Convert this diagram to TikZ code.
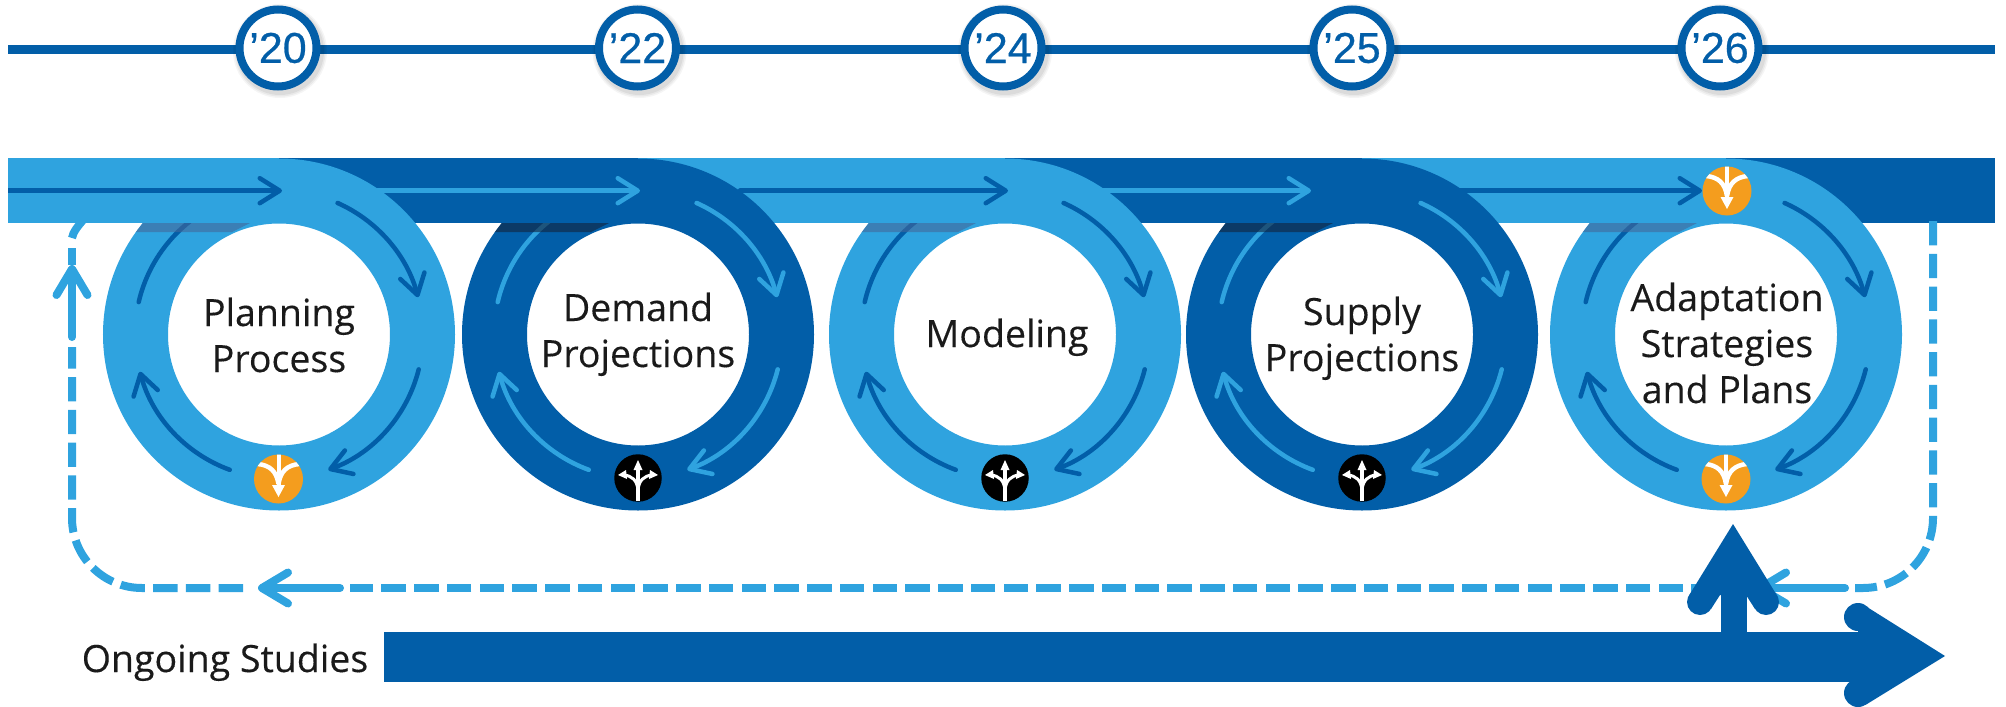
\documentclass[tikz,border=0pt]{standalone}
\usepackage{fontspec}
\setmainfont[FakeBold=0.25]{Open Sans}
\newfontfamily\yearfont[FakeBold=0.6]{Liberation Sans}
\usetikzlibrary{arrows.meta}
\definecolor{lt}{HTML}{2FA3DF}
\definecolor{dk}{HTML}{025EA8}
\definecolor{org}{HTML}{F49D1E}
\definecolor{ink}{HTML}{1A1A1A}
\tikzset{
  ringnode/.style={circle,inner sep=0pt,minimum size=287pt,line width=65pt,fill=white,draw=#1},
  seg/.style={fill=#1},
  flow/.style={draw=#1,line width=4.5pt,line cap=round,-{Straight Barb[length=20pt,width=25pt,round]}},
  tailarc/.style={draw=#1,line width=4.5pt,line cap=round},
  yearnode/.style={circle,inner sep=0pt,minimum size=77pt,line width=8pt,draw=dk,fill=white,text=dk,font=\yearfont\fontsize{43}{43}\selectfont},
  label/.style={anchor=base,inner sep=0pt,align=center,text=ink,font=\fontsize{37.5}{46}\selectfont},
  orangedot/.style={circle,inner sep=0pt,minimum size=49pt,fill=org},
  blackdot/.style={circle,inner sep=0pt,minimum size=47.5pt,fill=black},
  loopdash/.style={draw=lt,line width=8pt,dash pattern=on 24.4pt off 8.35pt},
  loopsolid/.style={draw=lt,line width=8pt},
  loophead/.style={draw=lt,line width=8pt,line cap=round,-{Straight Barb[length=26pt,width=31pt,round]}},
  mergeicon/.pic={
    \begin{scope}
      \clip (0,0) circle (24.5);
      \draw[white,line width=4.5pt] (-21,15) .. controls (-9,14) and (-2,8) .. (0,-5);
      \draw[white,line width=4.5pt] (21,15) .. controls (9,14) and (2,8) .. (0,-5);
      \draw[white,line width=4pt] (0,26) -- (0,-8);
      \fill[white] (-6.5,-6) -- (6.5,-6) -- (0,-18) -- cycle;
    \end{scope}
  },
  forkicon/.pic={
    \draw[white,line width=3.5pt] (0,-23) -- (0,10);
    \fill[white] (-4.5,8) -- (4.5,8) -- (0,18) -- cycle;
    \draw[white,line width=3pt] (0,-12) .. controls (-1,-2) and (-6,2) .. (-14,3);
    \draw[white,line width=3pt] (0,-12) .. controls (1,-2) and (6,2) .. (14,3);
    \fill[white] (-20,3) -- (-12,8) -- (-11,-1) -- cycle;
    \fill[white] (20,3) -- (12,8) -- (11,-1) -- cycle;
  }
}
\newcommand{\RingArcs}[3]{% centre x, centre y, colour
  \begin{scope}[shift={(#1,#2)}]
    \draw[flow=#3] (-66:144) arc[start angle=-66,end angle=-15,radius=144];
    \draw[flow=#3] (14:144) arc[start angle=14,end angle=70,radius=144];
    \draw[flow=#3] (110:144) arc[start angle=110,end angle=165,radius=144];
    \draw[tailarc=#3] (193:144) arc[start angle=193,end angle=235,radius=144];
  \end{scope}}
\newcommand{\RingShade}[2]{% centre x, colour
  \begin{scope}
    \clip (#1,334.5) circle (176);
    \fill[#2,opacity=.6] (#1-160,223) -- (#1-29,223) -- (#1-47,232) -- (#1-160,232) -- cycle;
  \end{scope}}
\definecolor{shl}{RGB}{67,103,153}
\definecolor{shd}{RGB}{20,34,58}
\begin{document}
\begin{tikzpicture}[x=1pt,y=1pt,yscale=-1]
\useasboundingbox (0,0) rectangle (2006,707);

% timeline
\coordinate (tlL) at (8,49.5);
\coordinate (tlR) at (1995,49.5);
\draw[dk,line width=8.5pt] (tlL) -- (tlR);
\foreach \x in {278,637.5,1003,1352,1720}{
  \foreach \r/\o in {47/.04,45.5/.05,44/.06}
    \fill[black,opacity=\o] (\x+2,51) circle (\r);
}
\node[yearnode] (y20) at (278,48) {’20};
\node[yearnode] (y22) at (637.5,48) {’22};
\node[yearnode] (y24) at (1003,48) {’24};
\node[yearnode] (y25) at (1352,48) {’25};
\node[yearnode] (y26) at (1720,48) {’26};

% left end of the return loop, passes under the band
\coordinate (lc1) at (72,238);
\coordinate (lc2) at (84,219);
\draw[loopsolid] (lc1) .. controls (73,232) and (78,226) .. (lc2);

% band and rings, right to left
\fill[seg=dk] (1726,158) rectangle (1995,223);
\node[ringnode=lt] (r5) at (1726,334.5) {};
\RingArcs{1726}{334.5}{dk}
\RingShade{1726}{shl}
\fill[seg=lt] (1362,158) rectangle (1726,223);
\coordinate (a5s) at (1420,190.7);
\coordinate (a5e) at (1702,190.7);
\draw[flow=dk] (a5s) -- (a5e);

\node[ringnode=dk] (r4) at (1362,334.5) {};
\RingArcs{1362}{334.5}{lt}
\RingShade{1362}{shd}
\fill[seg=dk] (1005,158) rectangle (1362,223);
\coordinate (a4s) at (1100,190.7);
\coordinate (a4e) at (1311,190.7);
\draw[flow=lt] (a4s) -- (a4e);

\node[ringnode=lt] (r3) at (1005,334.5) {};
\RingArcs{1005}{334.5}{dk}
\RingShade{1005}{shl}
\fill[seg=lt] (638,158) rectangle (1005,223);
\coordinate (a3s) at (740,190.7);
\coordinate (a3e) at (1008,190.7);
\draw[flow=dk] (a3s) -- (a3e);

\node[ringnode=dk] (r2) at (638,334.5) {};
\RingArcs{638}{334.5}{lt}
\RingShade{638}{shd}
\fill[seg=dk] (279,158) rectangle (638,223);
\coordinate (a2s) at (370,190.7);
\coordinate (a2e) at (640,190.7);
\draw[flow=lt] (a2s) -- (a2e);

\node[ringnode=lt] (r1) at (279,334.5) {};
\RingArcs{279}{334.5}{dk}
\RingShade{279}{shl}
\fill[seg=lt] (8,158) rectangle (279,223);
\coordinate (a1s) at (8,190.7);
\coordinate (a1e) at (282,190.7);
\draw[flow=dk,line cap=butt] (a1s) -- (a1e);

% ring labels
\node[label] (t1) at (279,372) {Planning\\Process};
\node[label] (t2) at (638,367) {Demand\\Projections};
\node[label] (t3) at (1007,347) {Modeling};
\node[label] (t4) at (1362,371) {Supply\\Projections};
\node[label] (t5) at (1727,403) {Adaptation\\Strategies\\and Plans};

% icons
\node[orangedot] (m1) at (278.5,479) {};
\pic at (m1) {mergeicon};
\node[blackdot] (f2) at (638,478) {};
\pic at (f2) {forkicon};
\node[blackdot] (f3) at (1005,478) {};
\pic at (f3) {forkicon};
\node[blackdot] (f4) at (1362,478) {};
\pic at (f4) {forkicon};
\node[orangedot] (m5) at (1726,479) {};
\pic at (m5) {mergeicon};
\node[orangedot] (m6) at (1727,191) {};
\pic at (m6) {mergeicon};

% return loop
\coordinate (rtop) at (1933,221);
\coordinate (rh1) at (1845,588);
\coordinate (rh2) at (1756,588);
\coordinate (md1) at (1715.75,588);
\coordinate (md2) at (350,588);
\coordinate (lh1) at (340,588);
\coordinate (lh2) at (258,588);
\coordinate (ld1) at (243,588);
\coordinate (ld2) at (72,347);
\coordinate (uh1) at (72,337);
\coordinate (uh2) at (72,265);
\coordinate (uh3) at (72,248);
\draw[loopdash] (rtop) -- (1933,518) arc[start angle=0,end angle=90,radius=70] -- (1855,588);
\draw[loophead] (rh1) -- (rh2);
\draw[loopdash] (md1) -- (md2);
\draw[loophead] (lh1) -- (lh2);
\draw[loopdash] (ld1) -- (142,588) arc[start angle=90,end angle=180,radius=70] -- (ld2);
\draw[loophead] (uh1) -- (uh2);
\draw[loopsolid] (uh2) -- (uh3);

% ongoing studies arrow
\node[anchor=base,inner sep=0pt,text=ink,font=\fontsize{37.5}{46}\selectfont] (os) at (225,672) {Ongoing Studies};
\fill[dk] (1721,640) rectangle (1747,590);
\fill[dk] (1733,524) -- (1777,595.5) -- (1776,610) -- (1755,609) -- (1746,595) -- (1720,595) -- (1711,609) -- (1690,610) -- (1689,595.5) -- cycle;
\fill[dk] (1700,602) circle (13);
\fill[dk] (1766,602) circle (13);
\fill[dk] (384,631.5) rectangle (1860,682);
\fill[dk] (1945,656) -- (1865.4,606) -- (1858,617) -- (1858,693) -- (1865.4,705) -- cycle;
\fill[dk] (1858,617) circle (14);
\fill[dk] (1858,693) circle (14);
\end{tikzpicture}
\end{document}
